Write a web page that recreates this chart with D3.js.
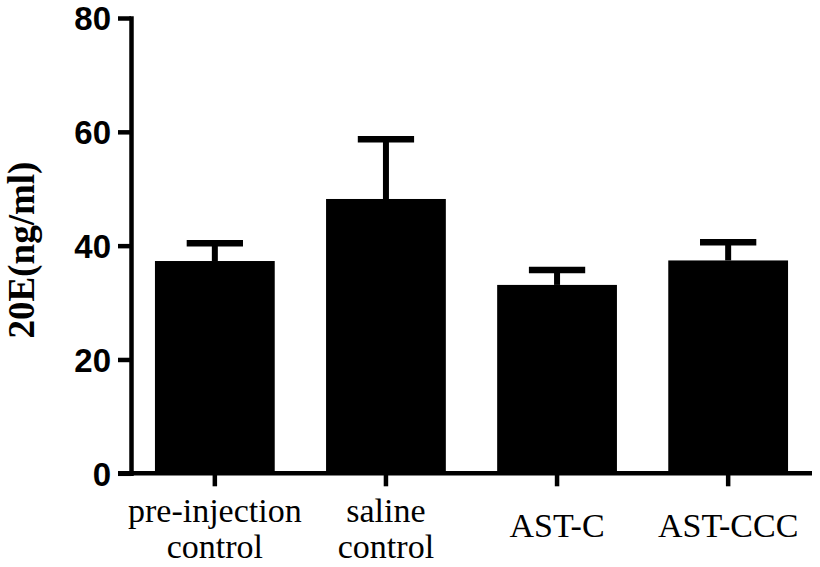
<!DOCTYPE html>
<html lang="en">
<head>
  <meta charset="UTF-8">
  <script src="https://d3js.org/d3.v7.min.js"></script>
  <style>
    body { margin: 0; background: white; }
  </style>
</head>
<body>
<div id="chart"></div>
<script>
  // values (mean and mean + SEM)
  var groups = ["pre-injection control", "saline control", "AST-C", "AST-CCC"];
  var labelLines = [["pre-injection", "control"], ["saline", "control"], ["AST-C"], ["AST-CCC"]];
  var means = [37.3, 48.2, 33.1, 37.4];
  var upper = [40.4, 58.7, 35.7, 40.6];
  var yTicks = [0, 20, 40, 60, 80];

  var width = 820, height = 567;
  var svg = d3.select("#chart").append("svg")
    .attr("width", width)
    .attr("height", height);

  var x = d3.scaleBand()
    .domain(groups)
    .range([131, 812])
    .paddingInner(0.3)
    .paddingOuter(0.14);

  var y = d3.scaleLinear()
    .domain([0, 80])
    .range([473.3, 18]);

  // bars
  svg.selectAll("rect.bar")
    .data(groups)
    .enter()
    .append("rect")
    .attr("class", "bar")
    .attr("x", d => x(d))
    .attr("width", x.bandwidth())
    .attr("y", (d, i) => y(means[i]))
    .attr("height", (d, i) => y(0) - y(means[i]))
    .style("fill", "black");

  // error bars (upper only)
  var capW = x.bandwidth() * 0.47;
  groups.forEach(function (g, i) {
    var cx = x(g) + x.bandwidth() / 2;
    svg.append("line")
      .attr("x1", cx).attr("x2", cx)
      .attr("y1", y(means[i])).attr("y2", y(upper[i]))
      .attr("stroke", "black").attr("stroke-width", 6);
    svg.append("line")
      .attr("x1", cx - capW / 2).attr("x2", cx + capW / 2)
      .attr("y1", y(upper[i])).attr("y2", y(upper[i]))
      .attr("stroke", "black").attr("stroke-width", 6.5);
  });

  // y axis
  var yAxis = svg.append("g")
    .attr("transform", "translate(131,0)")
    .call(d3.axisLeft(y).tickValues(yTicks).tickSize(13).tickPadding(7).tickSizeOuter(0));
  yAxis.select(".domain").attr("stroke-width", 4.5).attr("stroke-linecap", "square");
  yAxis.selectAll(".tick line").attr("stroke-width", 4.5);
  yAxis.selectAll(".tick text")
    .attr("dy", "0.36em")
    .style("font-family", "'Liberation Sans', Arial, sans-serif")
    .style("font-weight", "bold")
    .style("font-size", "33px")
    .attr("fill", "black");

  // x axis
  var xAxis = svg.append("g")
    .attr("transform", "translate(0," + y(0) + ")")
    .call(d3.axisBottom(x).tickSize(13).tickSizeOuter(0).tickFormat(""));
  xAxis.select(".domain").attr("stroke-width", 4.5).attr("d", "M118,0H812");
  xAxis.selectAll(".tick line").attr("stroke-width", 4.5);

  // x labels
  groups.forEach(function (g, i) {
    var cx = x(g) + x.bandwidth() / 2;
    var t = svg.append("text")
      .attr("text-anchor", "middle")
      .style("font-family", "'Liberation Serif', 'Times New Roman', serif")
      .style("font-size", "34px")
      .attr("fill", "black");
    var lines = labelLines[i];
    var y0 = lines.length === 1 ? 537 : 521.7;
    lines.forEach(function (ln, j) {
      t.append("tspan").attr("x", cx).attr("y", y0 + j * 36).text(ln);
    });
  });

  // y label
  svg.append("text")
    .attr("transform", "translate(34,250) rotate(-90)")
    .attr("text-anchor", "middle")
    .style("font-family", "'Liberation Serif', 'Times New Roman', serif")
    .style("font-weight", "bold")
    .style("font-size", "37px")
    .attr("fill", "black")
    .text("20E(ng/ml)");
</script>
</body>
</html>
